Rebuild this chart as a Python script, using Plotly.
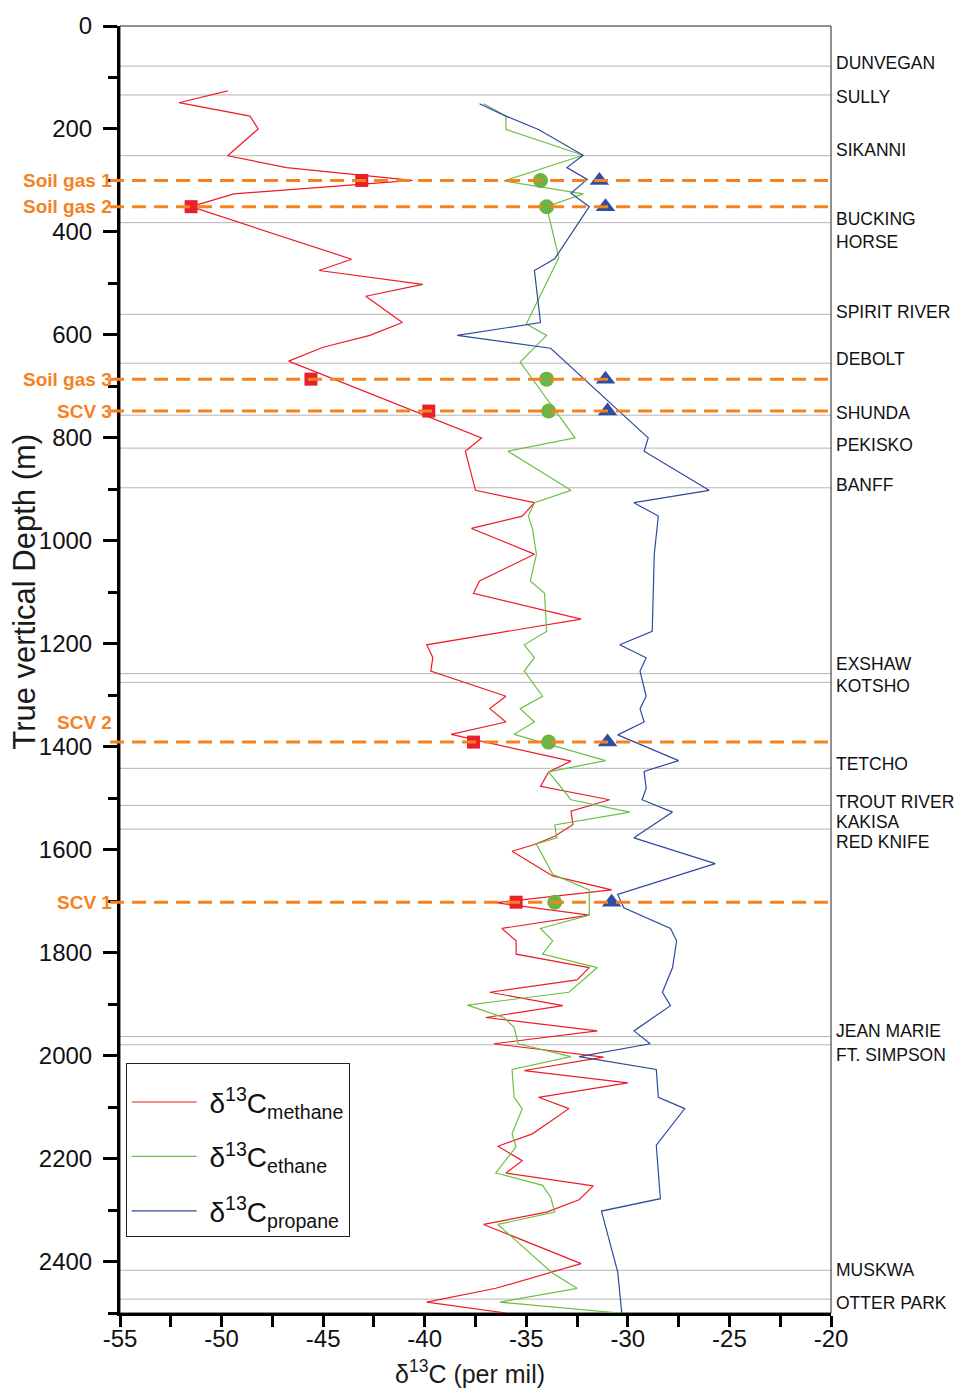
import plotly.graph_objects as go

# ---------------- data ----------------
methane_depth = [126, 149, 175, 200, 252, 275, 300, 326, 351, 453, 475, 502, 525, 576, 601, 624, 651,
                 800, 826, 902, 926, 952, 976, 1026, 1078, 1102, 1152, 1202, 1227, 1253, 1302, 1326, 1352,
                 1376, 1428, 1449, 1477, 1503, 1525, 1551, 1574, 1590, 1603, 1651, 1678, 1703, 1727, 1753,
                 1777, 1803, 1829, 1853, 1877, 1903, 1926, 1952, 1977, 2003, 2029, 2053, 2081, 2103, 2152,
                 2176, 2204, 2228, 2253, 2280, 2304, 2328, 2404, 2452, 2479, 2500]
methane_d13c = [-49.7, -52.1, -48.6, -48.2, -49.7, -46.8, -40.6, -49.4, -51.5, -43.6, -45.2, -40.1, -42.9,
                -41.1, -42.7, -45.0, -46.7, -37.2, -38.0, -37.5, -34.6, -35.2, -37.7, -34.6, -37.3, -37.6,
                -32.3, -39.9, -39.6, -39.7, -36.0, -36.8, -36.0, -38.7, -32.8, -33.9, -34.3, -30.9, -32.8,
                -32.7, -33.6, -34.6, -35.7, -33.7, -30.8, -36.5, -31.9, -36.2, -35.5, -35.5, -31.9, -32.5,
                -36.8, -33.2, -37.0, -31.5, -36.6, -31.2, -35.1, -30.0, -34.4, -32.9, -34.7, -36.4, -35.2,
                -36.0, -31.7, -32.4, -34.0, -37.1, -32.3, -36.5, -39.9, -36.0]

ethane_depth = [151, 175, 201, 251, 301, 326, 351, 450, 579, 601, 653, 800, 826, 902, 926, 952, 976, 1026,
                1078, 1102, 1176, 1202, 1227, 1253, 1302, 1326, 1352, 1376, 1427, 1449, 1503, 1527, 1552,
                1577, 1589, 1648, 1678, 1727, 1753, 1777, 1803, 1829, 1877, 1902, 1926, 1945, 1977, 2002,
                2027, 2081, 2103, 2152, 2177, 2228, 2252, 2275, 2304, 2328, 2423, 2452, 2479, 2500]
ethane_d13c = [-37.1, -36.0, -36.0, -32.2, -36.1, -32.2, -34.0, -33.4, -35.0, -34.0, -35.3, -32.6, -35.9,
               -32.8, -34.6, -34.9, -34.7, -34.5, -34.8, -34.1, -34.0, -35.1, -34.6, -35.1, -34.2, -35.3,
               -34.6, -35.6, -31.1, -33.9, -32.8, -29.9, -33.6, -33.5, -34.5, -33.7, -31.9, -31.9, -34.3,
               -33.7, -34.2, -31.5, -32.9, -37.9, -36.1, -35.6, -35.4, -32.8, -35.7, -35.6, -35.2, -35.7,
               -35.5, -36.5, -34.2, -33.8, -33.6, -36.4, -33.7, -32.5, -36.3, -30.4]

propane_depth = [151, 175, 201, 251, 275, 298, 325, 351, 452, 475, 576, 601, 626, 800, 826, 902, 926, 952,
                 1026, 1176, 1202, 1227, 1253, 1302, 1326, 1352, 1377, 1427, 1448, 1481, 1503, 1527, 1577,
                 1627, 1687, 1713, 1753, 1777, 1829, 1877, 1903, 1952, 1977, 2002, 2027, 2081, 2103, 2174,
                 2278, 2302, 2420, 2500]
propane_d13c = [-37.3, -36.0, -34.4, -32.2, -33.0, -32.0, -32.8, -31.9, -33.6, -34.6, -34.3, -38.4, -33.8,
                -29.0, -29.2, -26.0, -29.7, -28.5, -28.7, -28.8, -30.4, -29.1, -29.4, -29.1, -29.4, -29.2,
                -30.5, -27.5, -29.2, -29.1, -29.3, -27.8, -29.7, -25.7, -30.5, -30.2, -27.9, -27.6, -27.8,
                -28.3, -27.9, -29.7, -28.9, -32.4, -28.6, -28.5, -27.2, -28.6, -28.4, -31.3, -30.5, -30.3]

# gas samples (soil gas / surface casing vent)
sample_names = ["Soil gas 1", "Soil gas 2", "Soil gas 3", "SCV 3", "SCV 2", "SCV 1"]
sample_depth = [300, 351, 686, 748, 1391, 1702]
sample_label_depth = [300, 351, 686, 748, 1352, 1702]
sample_methane = [-43.1, -51.5, -45.6, -39.8, -37.6, -35.5]
sample_ethane = [-34.3, -34.0, -34.0, -33.9, -33.9, -33.6]
sample_propane = [-31.4, -31.1, -31.1, -31.0, -31.0, -30.8]

# formation tops
formation_line_depth = [78, 134, 252, 382, 560, 655, 756, 820, 897, 1258, 1275, 1442, 1514, 1560,
                        1963, 1979, 2417, 2473]
formation_names = ["DUNVEGAN", "SULLY", "SIKANNI", "BUCKING<br>HORSE", "SPIRIT RIVER", "DEBOLT", "SHUNDA",
                   "PEKISKO", "BANFF", "EXSHAW", "KOTSHO", "TETCHO", "TROUT RIVER", "KAKISA", "RED KNIFE",
                   "JEAN MARIE", "FT. SIMPSON", "MUSKWA", "OTTER PARK"]
formation_label_depth = [72, 138, 240, 397, 556, 647, 752, 814, 891, 1240, 1283, 1434, 1508, 1547, 1585,
                         1953, 1998, 2417, 2481]

y_ticks = list(range(0, 2401, 200))
x_ticks = list(range(-55, -19, 5))

# ---------------- styles ----------------
RED = "#EE1C25"
GREEN = "#6CBF45"
BLUE = "#2E4A9E"
ORANGE = "#F5821F"
FONT = "Liberation Sans, Arial, sans-serif"

fig = go.Figure()

fig.add_trace(go.Scatter(x=methane_d13c, y=methane_depth, mode="lines",
                         line=dict(color=RED, width=1.2), legendgroup="m",
                         name="&nbsp;δ<sup>13</sup>C<sub>methane</sub>"))
fig.add_trace(go.Scatter(x=ethane_d13c, y=ethane_depth, mode="lines",
                         line=dict(color=GREEN, width=1.2), legendgroup="e",
                         name="&nbsp;δ<sup>13</sup>C<sub>ethane</sub>"))
fig.add_trace(go.Scatter(x=propane_d13c, y=propane_depth, mode="lines",
                         line=dict(color=BLUE, width=1.2), legendgroup="p",
                         name="&nbsp;δ<sup>13</sup>C<sub>propane</sub>"))

fig.add_trace(go.Scatter(x=sample_methane, y=sample_depth, mode="markers", showlegend=False,
                         marker=dict(symbol="square", size=13, color="#E8202A")))
fig.add_trace(go.Scatter(x=sample_ethane, y=sample_depth, mode="markers", showlegend=False,
                         marker=dict(symbol="circle", size=15, color="#6AB545")))
fig.add_trace(go.Scatter(x=sample_propane, y=sample_depth, mode="markers", showlegend=False,
                         marker=dict(symbol="triangle-up", size=17, color="#2E4FA0")))

shapes = []
for d in formation_line_depth:
    shapes.append(dict(type="line", xref="paper", yref="y", x0=0, x1=1, y0=d, y1=d,
                       line=dict(color="#B4B4B4", width=1), layer="below"))
for d in sample_depth:
    shapes.append(dict(type="line", xref="paper", yref="y", x0=-0.014, x1=1, y0=d, y1=d,
                       line=dict(color=ORANGE, width=3, dash="14px,8px"), layer="above"))
# thin frame (top and right)
shapes.append(dict(type="rect", xref="paper", yref="paper", x0=0, x1=1, y0=0, y1=1,
                   line=dict(color="#222222", width=1), layer="below"))

annotations = []
for name, d in zip(formation_names, formation_label_depth):
    annotations.append(dict(text=name, xref="paper", yref="y", x=1, y=d, xanchor="left",
                            yanchor="middle", xshift=3, showarrow=False, align="left",
                            font=dict(family=FONT, size=17.5, color="#111111")))
for name, d in zip(sample_names, sample_label_depth):
    annotations.append(dict(text=f"<b>{name}</b>", xref="paper", yref="y", x=-0.008, y=d,
                            xanchor="right", yanchor="middle", showarrow=False,
                            font=dict(family=FONT, size=19, color=ORANGE)))
annotations.append(dict(text="True vertical Depth (m)", xref="paper", yref="paper", x=-0.1336, y=0.5605,
                        textangle=-90, showarrow=False, xanchor="center", yanchor="middle",
                        font=dict(family=FONT, size=31, color="#1a1a1a")))
annotations.append(dict(text="δ<sup>13</sup>C (per mil)", xref="paper", yref="paper", x=0.492, y=-0.0457,
                        showarrow=False, xanchor="center", yanchor="middle",
                        font=dict(family=FONT, size=25, color="#1a1a1a")))

fig.update_layout(
    width=959, height=1393,
    margin=dict(l=120, r=128, t=23, b=80),
    paper_bgcolor="white", plot_bgcolor="white",
    font=dict(family=FONT, color="#111111"),
    shapes=shapes, annotations=annotations,
    showlegend=True,
    legend=dict(x=0.008, y=0.194, xanchor="left", yanchor="top",
                bgcolor="white", bordercolor="#222222", borderwidth=1,
                font=dict(family=FONT, size=28, color="#111111"),
                title=dict(text=" ", font=dict(size=10)),
                itemwidth=65, tracegroupgap=15),
    xaxis=dict(range=[-55, -20], tickvals=x_ticks, ticktext=[str(v) for v in x_ticks],
               showgrid=False, zeroline=False, showline=True, linecolor="black", linewidth=3,
               ticks="outside", ticklen=11, tickwidth=2.5, tickcolor="black", ticklabelstandoff=-9,
               tickfont=dict(family=FONT, size=24, color="#111111"),
               minor=dict(dtick=2.5, tick0=-55, ticks="outside", ticklen=11, tickwidth=2.5, tickcolor="black")),
    yaxis=dict(range=[2500, 0], tickvals=y_ticks, ticktext=[str(v) for v in y_ticks],
               showgrid=False, zeroline=False, showline=True, linecolor="black", linewidth=3,
               ticks="outside", ticklen=14, tickwidth=3, tickcolor="black", ticklabelstandoff=6,
               tickfont=dict(family=FONT, size=24, color="#111111"),
               minor=dict(dtick=100, tick0=0, ticks="outside", ticklen=9, tickwidth=3, tickcolor="black")),
)

fig.write_html("out.html")
